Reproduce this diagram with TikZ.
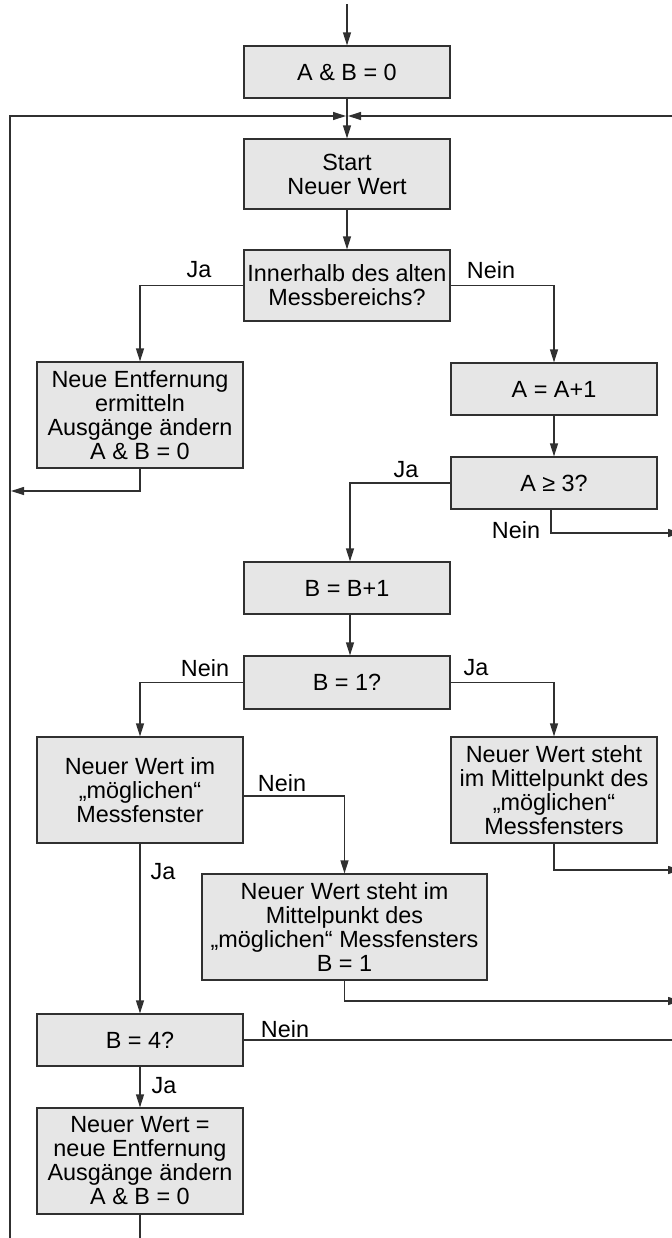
\documentclass[tikz,border=0pt]{standalone}
\usepackage{fontspec}
\setmainfont{Liberation Sans}
\usetikzlibrary{arrows.meta}
\definecolor{boxc}{HTML}{E6E6E6}
\definecolor{linec}{HTML}{303030}
\newcommand\fsz{\fontsize{11.7pt}{12pt}\selectfont}
\begin{document}
\begin{tikzpicture}[x=0.5pt,y=-0.5pt,
  box/.style={draw=linec, fill=boxc, line width=0.6pt, inner sep=0pt, align=center, font=\fsz, minimum width=103pt},
  lbl/.style={inner sep=0pt, font=\fsz},
  conn/.style={draw=linec, line width=0.6pt},
  arr/.style={conn, -{Triangle[length=6.5pt,width=4pt]}}]
\useasboundingbox (0,0) rectangle (671,1238);
% boxes
\node[box, minimum height=26pt] (ab0) at (347,72) {A \& B = 0};
\node[box, minimum height=35pt] (start) at (347,174) {Start\\Neuer Wert};
\node[box, minimum height=35.5pt] (inner) at (347,285.5) {Innerhalb des alten\\Messbereichs?};
\node[box, minimum height=53pt] (entf) at (140,415) {Neue Entfernung\\ermitteln\\Ausgänge ändern\\A \& B = 0};
\node[box, minimum height=26pt] (aplus) at (554,389) {A = A+1};
\node[box, minimum height=26pt] (age3) at (554,483) {A ≥ 3?};
\node[box, minimum height=26pt] (bplus) at (347,588) {B = B+1};
\node[box, minimum height=26.5pt] (b1) at (347,682.5) {B = 1?};
\node[box, minimum height=53pt] (wim) at (140,790) {Neuer Wert im\\„möglichen“\\Messfenster};
\node[box, minimum height=53pt] (wsr) at (554,790) {Neuer Wert steht\\im Mittelpunkt des\\„möglichen“\\Messfensters};
\node[box, minimum height=53pt, minimum width=142.5pt] (wsm) at (344.5,927) {Neuer Wert steht im\\Mittelpunkt des\\„möglichen“ Messfensters\\B = 1};
\node[box, minimum height=26pt] (b4) at (140,1040) {B = 4?};
\node[box, minimum height=53pt] (last) at (140,1161) {Neuer Wert =\\neue Entfernung\\Ausgänge ändern\\A \& B = 0};
% labels
\node[lbl] (ja1) at (199,270) {Ja};
\node[lbl] (nein1) at (491,270) {Nein};
\node[lbl] (ja2) at (406,470) {Ja};
\node[lbl] (nein2) at (516,530) {Nein};
\node[lbl] (nein3) at (205,668) {Nein};
\node[lbl] (ja3) at (476,668) {Ja};
\node[lbl] (nein4) at (282,783) {Nein};
\node[lbl] (ja4) at (163,872) {Ja};
\node[lbl] (nein5) at (285,1029) {Nein};
\node[lbl] (ja5) at (164,1086) {Ja};
% free ends
\coordinate (top) at (347,4);
\coordinate (lt) at (10,116);
\coordinate (lb) at (10,1240);
\coordinate (rt) at (674,116);
\coordinate (mergeL) at (346,116);
\coordinate (mergeR) at (348,116);
\coordinate (leftIn) at (11,491);
\coordinate (exA) at (681,533);
\coordinate (exB) at (681,870);
\coordinate (exC) at (681,1001);
\coordinate (exD) at (674,1040);
\coordinate (bot) at (140,1240);
% connectors
\draw[arr] (top) -- (ab0);
\draw[arr] (ab0) -- (start);
\draw[arr] (lb) -- (lt) -- (mergeL);
\draw[arr] (rt) -- (mergeR);
\draw[arr] (start) -- (inner);
\draw[arr] (inner.west) -| (entf.north);
\draw[arr] (inner.east) -| (aplus.north);
\draw[arr] (entf.south) |- (leftIn);
\draw[arr] (aplus) -- (age3);
\draw[arr] (age3.west) -| ([xshift=1.5pt]bplus.north);
\draw[arr] ([xshift=-1.5pt]age3.south) |- (exA);
\draw[arr] ([xshift=1.5pt]bplus.south) -- ([xshift=1.5pt]b1.north);
\draw[arr] (b1.west) -| (wim.north);
\draw[arr] (b1.east) -| (wsr.north);
\draw[arr] (wsr.south) |- (exB);
\draw[arr] ([yshift=-3pt]wim.east) -| (wsm.north);
\draw[arr] (wim) -- (b4);
\draw[arr] (wsm.south) |- (exC);
\draw[conn] (b4.east) -- (exD);
\draw[arr] (b4) -- (last);
\draw[conn] (last) -- (bot);
\end{tikzpicture}
\end{document}
